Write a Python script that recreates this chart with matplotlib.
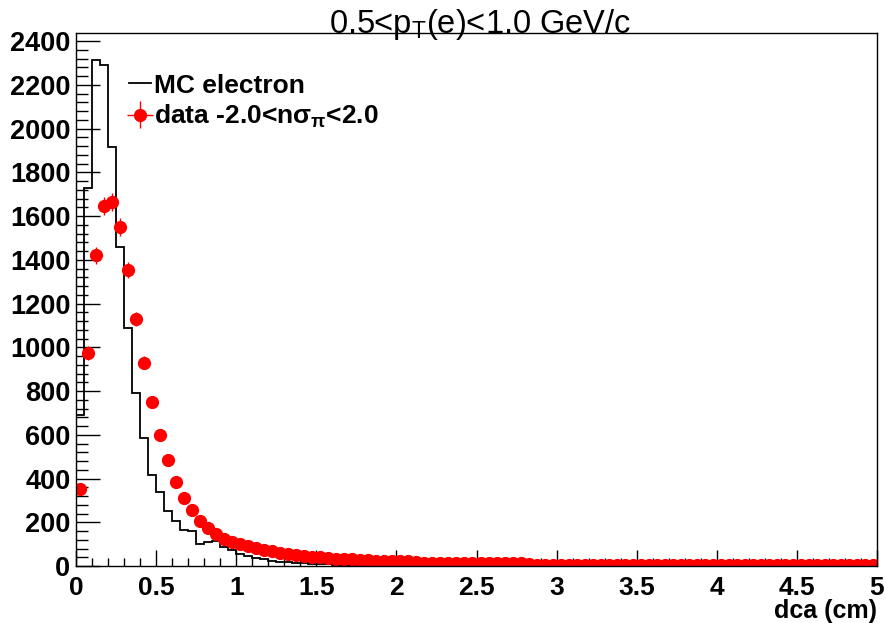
import matplotlib
matplotlib.use("Agg")
import matplotlib.pyplot as plt
import numpy as np

plt.rcParams['font.family'] = ['Liberation Sans', 'DejaVu Sans']
plt.rcParams['mathtext.fontset'] = 'custom'
plt.rcParams['mathtext.rm'] = 'Liberation Sans'
plt.rcParams['mathtext.default'] = 'regular'

# dca binning: 100 bins of 0.05 cm from 0 to 5 cm
bin_width = 0.05
n_bins = 100

# MC electron histogram contents
mc_counts = [690, 1727, 2313, 2290, 1917, 1460, 1089, 792, 584, 416,
             337, 251, 207, 165, 160, 99, 108, 115, 88, 72,
             53, 46, 36, 30, 25, 20, 17, 14, 12, 10,
             8, 7, 6, 5, 4, 3, 2, 1, 1, 0] + [0] * 60

# data, -2.0 < n sigma_pi < 2.0
data_counts = [350, 975, 1420, 1645, 1665, 1550, 1355, 1130, 930, 750,
               600, 485, 385, 310, 255, 208, 172, 146, 125, 110,
               100, 90, 82, 74, 67, 61, 56, 51, 46, 43,
               40, 37, 34, 32, 30, 28, 26, 24, 22, 21,
               21, 21, 20, 14, 14, 14, 13, 13, 13, 13,
               13, 12, 12, 12, 12, 12, 11, 6, 6, 6,
               4, 4, 4, 3, 3, 3, 3, 3, 3, 3,
               3, 3, 3, 3, 3, 3, 3, 3, 3, 3,
               3, 3, 3, 3, 3, 3, 3, 3, 3, 3,
               3, 3, 3, 3, 3, 3, 3, 3, 3, 3]

title = r'0.5<p$_{T}$(e)<1.0 GeV/c'
mc_label = 'MC electron'
data_label = r'data -2.0<n$σ_{π}$<2.0'
x_label = 'dca (cm)'

edges = np.arange(n_bins + 1) * bin_width
centers = edges[:-1] + bin_width / 2
mc = np.array(mc_counts, dtype=float)
data = np.array(data_counts, dtype=float)

fig = plt.figure(figsize=(8.87, 6.23), dpi=100)
ax = fig.add_axes([76 / 887, 57 / 623, 801 / 887, 533 / 623])

h_mc = ax.stairs(mc, edges, color='black', linewidth=1.3, baseline=None)
h_data = ax.errorbar(centers, data, xerr=bin_width / 2, yerr=np.sqrt(data),
                     fmt='o', color='red', markersize=8.5, elinewidth=1.0,
                     capsize=0)

ax.set_xlim(0, 5)
ax.set_ylim(0, 2437)
ax.set_xticks(np.arange(0, 5.01, 0.5))
ax.set_xticks(np.arange(0, 5.01, 0.1), minor=True)
ax.set_yticks(np.arange(0, 2401, 200))
ax.set_yticks(np.arange(0, 2401, 40), minor=True)
ax.set_xticklabels(['0', '0.5', '1', '1.5', '2', '2.5', '3', '3.5', '4', '4.5', '5'])

ax.tick_params(axis='x', which='major', direction='in', length=11.5, width=1, pad=7,
               labelsize=19)
ax.tick_params(axis='x', which='minor', direction='in', length=5.5, width=1)
ax.tick_params(axis='y', which='major', direction='in', length=17, width=1, pad=4,
               labelsize=19.5)
ax.tick_params(axis='y', which='minor', direction='in', length=8.5, width=1)
for lab in ax.get_xticklabels() + ax.get_yticklabels():
    lab.set_fontweight('bold')
for sp in ax.spines.values():
    sp.set_linewidth(1.0)

ax.text(1.0, -0.062, x_label, transform=ax.transAxes, ha='right', va='top',
        fontsize=18, fontweight='bold')
ax.text(0.505, 1.0, title, transform=ax.transAxes, ha='center', va='baseline',
        fontsize=23.5)

leg = ax.legend([h_mc, h_data], [mc_label, data_label], loc='upper left',
                bbox_to_anchor=(0.066, 0.924), frameon=False, handlelength=0.85,
                handletextpad=0.12, labelspacing=0.2, borderpad=0,
                borderaxespad=0, prop={'weight': 'bold', 'size': 19})

fig.savefig('out.png', dpi=100)
